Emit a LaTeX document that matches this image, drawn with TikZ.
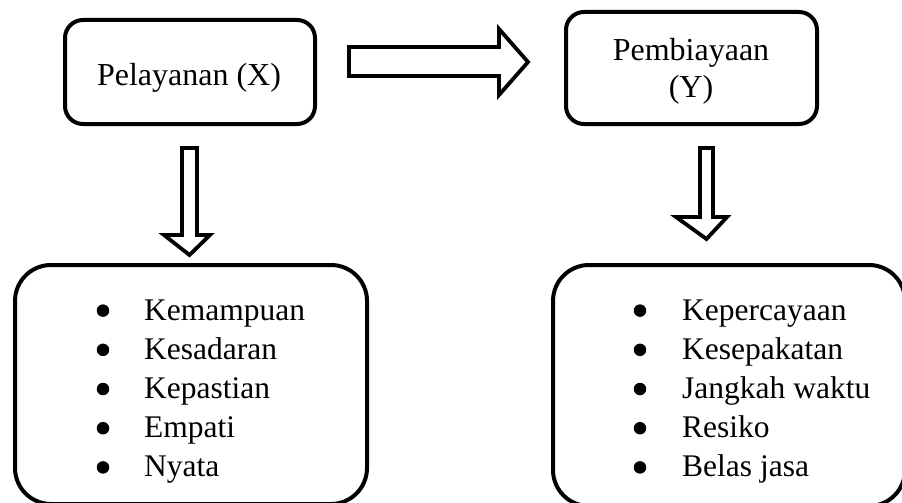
\documentclass[tikz,border=0pt]{standalone}
\usepackage{fontspec}
\setmainfont{Liberation Serif}
\begin{document}
\begin{tikzpicture}[x=1pt,y=-1pt,
  box/.style={draw=black,line width=4pt,rounded corners=#1,inner sep=0pt,fill=white},
  txt/.style={inner sep=0pt,font=\fontsize{32}{38}\selectfont},
  item/.style={inner sep=0pt,anchor=base west,font=\fontsize{31.5}{38}\selectfont},
  bul/.style={circle,fill=black,inner sep=0pt,minimum size=12.5pt},
  blockarrow/.style={draw=black,line width=3.8pt,line join=miter,fill=white}]
\useasboundingbox (0,0) rectangle (902,503);
\clip (0,0) rectangle (902,503);
% top boxes
\node[box=18pt,minimum width=250pt,minimum height=104pt] (px) at (190,72) {};
\node[box=18pt,minimum width=251pt,minimum height=112pt] (py) at (691.5,68) {};
\node[txt,anchor=base] (tpx) at (189,85.7) {Pelayanan (X)};
\node[txt,anchor=base] (tpy1) at (691,60.7) {Pembiayaan};
\node[txt,anchor=base] (tpy2) at (691,97) {(Y)};
% bottom boxes
\node[box=36pt,minimum width=352pt,minimum height=239pt] (lx) at (191,384.5) {};
\node[box=36pt,minimum width=352pt,minimum height=241pt] (ly) at (729,385.5) {};
% arrows
\draw[blockarrow] (349,47) -- (499,47) -- (499,29) -- (528,62) -- (499,95) -- (499,76) -- (349,76) -- cycle;
\draw[blockarrow] (182,148) -- (197,148) -- (197,235) -- (210,235) -- (189.5,255) -- (164,235) -- (182,235) -- cycle;
\draw[blockarrow] (700,148) -- (713,148) -- (713,217) -- (727,217) -- (706.5,239) -- (676,217) -- (700,217) -- cycle;
% left list
\foreach \t [count=\i] in {Kemampuan,Kesadaran,Kepastian,Empati,Nyata}{
  \node[bul] (bl\i) at (103,{310.6+39.2*(\i-1)}) {};
  \node[item] (l\i) at (144,{320+39.2*(\i-1)}) {\t};
}
% right list
\foreach \t [count=\i] in {Kepercayaan,Kesepakatan,Jangkah waktu,Resiko,Belas jasa}{
  \node[bul] (br\i) at (640,{310.6+39.2*(\i-1)}) {};
  \node[item] (r\i) at (682,{320+39.2*(\i-1)}) {\t};
}
\end{tikzpicture}
\end{document}
